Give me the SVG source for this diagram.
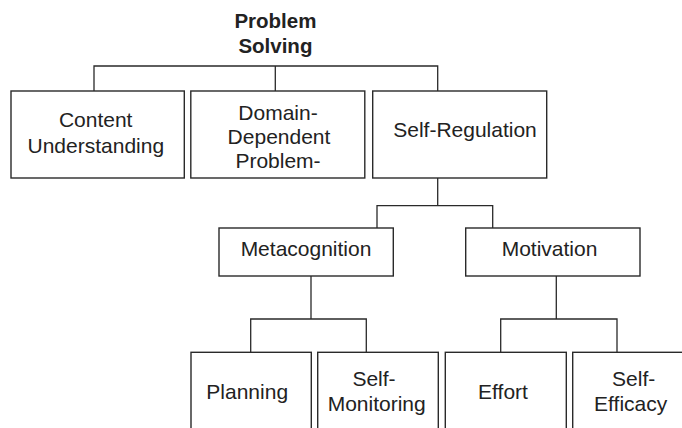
<svg xmlns="http://www.w3.org/2000/svg" width="682" height="428" viewBox="0 0 682 428">
  <style>
    .box { fill: #ffffff; stroke: #2a2a2a; stroke-width: 1.4; }
    .wire { fill: none; stroke: #2a2a2a; stroke-width: 1.3; }
    .lbl { font-family: "Liberation Sans", Arial, sans-serif; font-size: 21px; fill: #222222; text-anchor: middle; }
    .title { font-family: "Liberation Sans", Arial, sans-serif; font-size: 20.5px; font-weight: bold; fill: #222222; text-anchor: middle; }
  </style>
  <rect x="0" y="0" width="682" height="428" fill="#ffffff"/>

  <!-- tree connectors -->
  <g id="connectors">
    <path class="wire" d="M94,91 V66 H437.7 V91 M275.3,66 V91"/>
    <path class="wire" d="M437.7,178 V205.7 M377,228 V205.7 H492.7 V228"/>
    <path class="wire" d="M311,276 V319 M250.7,352 V319 H366.3 V352"/>
    <path class="wire" d="M556.3,276 V319 M500.7,352 V319 H617 V352"/>
  </g>

  <g id="problem-solving">
    <text class="title" x="275.4" y="28.3">Problem</text>
    <text class="title" x="275.4" y="53.3">Solving</text>
  </g>

  <g id="content-understanding">
    <rect class="box" x="11" y="91" width="173.3" height="87"/>
    <text class="lbl" x="95.7" y="127.3">Content</text>
    <text class="lbl" x="95.8" y="152.5">Understanding</text>
  </g>

  <g id="domain-dependent">
    <rect class="box" x="190.8" y="91" width="174" height="87"/>
    <text class="lbl" x="278" y="120">Domain-</text>
    <text class="lbl" x="279" y="144">Dependent</text>
    <text class="lbl" x="278" y="167.7">Problem-</text>
  </g>

  <g id="self-regulation">
    <rect class="box" x="372.7" y="91" width="174" height="87"/>
    <text class="lbl" x="465" y="136.7">Self-Regulation</text>
  </g>

  <g id="metacognition">
    <rect class="box" x="219" y="228" width="174.3" height="48"/>
    <text class="lbl" x="306" y="256">Metacognition</text>
  </g>

  <g id="motivation">
    <rect class="box" x="465.7" y="228" width="174.3" height="48"/>
    <text class="lbl" x="549.5" y="256">Motivation</text>
  </g>

  <g id="planning">
    <rect class="box" x="191" y="352.3" width="120.3" height="90"/>
    <text class="lbl" x="247.2" y="399">Planning</text>
  </g>

  <g id="self-monitoring">
    <rect class="box" x="317.7" y="352.3" width="120.6" height="90"/>
    <text class="lbl" x="374" y="385.7">Self-</text>
    <text class="lbl" x="376.7" y="410.7">Monitoring</text>
  </g>

  <g id="effort">
    <rect class="box" x="445.3" y="352.3" width="121" height="90"/>
    <text class="lbl" x="503" y="399">Effort</text>
  </g>

  <g id="self-efficacy">
    <rect class="box" x="572.7" y="352.3" width="121" height="90"/>
    <text class="lbl" x="633.7" y="385.7">Self-</text>
    <text class="lbl" x="630.7" y="410.7">Efficacy</text>
  </g>
</svg>
